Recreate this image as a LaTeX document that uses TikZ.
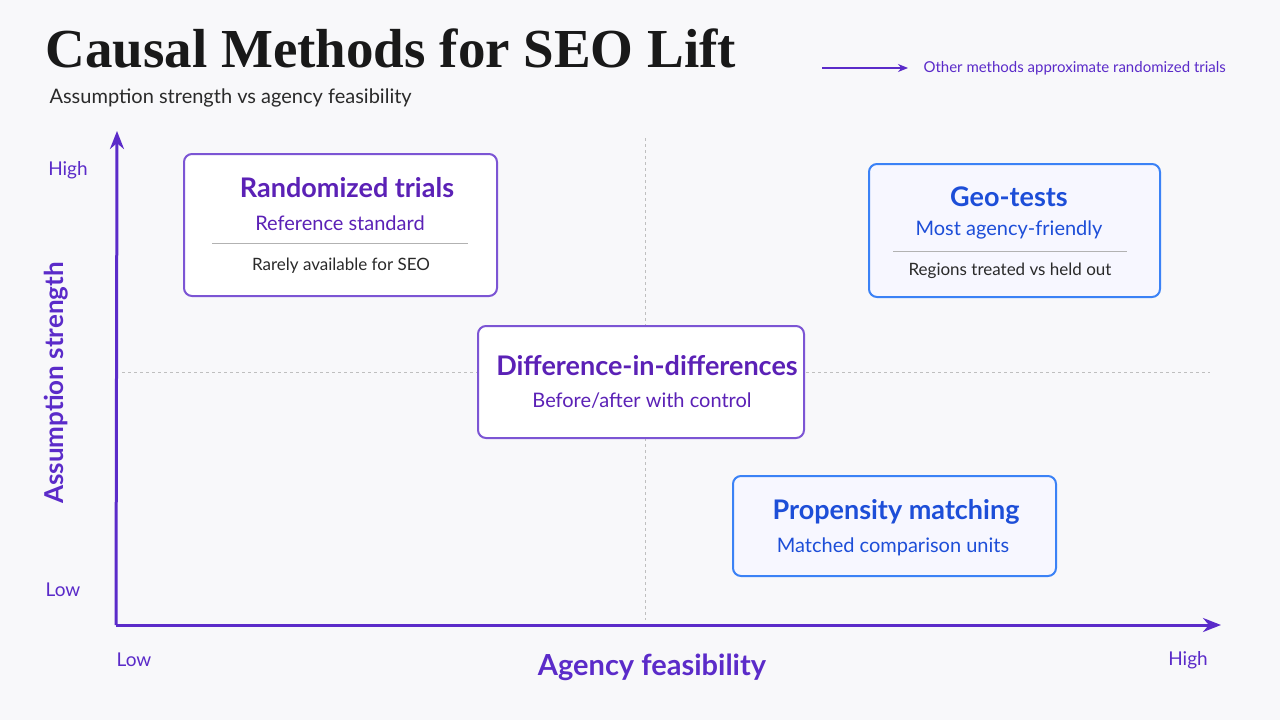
\documentclass[tikz,border=0pt]{standalone}
\usepackage{fontspec}
\setmainfont{Lato}
\newfontfamily\titlefont{Liberation Serif}
\usetikzlibrary{arrows.meta}
\definecolor{pur}{HTML}{5B21B6}
\definecolor{axp}{HTML}{5B2BC9}
\definecolor{blu}{HTML}{1D4ED8}
\definecolor{blb}{HTML}{3B82F6}
\definecolor{bg}{HTML}{F8F8FA}
\definecolor{txt}{HTML}{2A2A2A}
\tikzset{
 pbox/.style={draw=axp!80, line width=2pt, rounded corners=8pt, fill=white},
 bbox/.style={draw=blb, line width=2pt, rounded corners=8pt, fill=blue!3},
 ttl/.style={font=\fontsize{27}{30}\selectfont\bfseries},
 sub/.style={font=\fontsize{20}{23}\selectfont},
 nt/.style={font=\fontsize{17}{20}\selectfont, text=txt},
 dashl/.style={draw=gray!50, dashed, line width=0.8pt},
 sep/.style={draw=gray!60, line width=0.8pt},
 ax/.style={draw=axp, line width=3pt, -{Stealth[length=18pt,width=14pt]}},
 tick/.style={font=\fontsize{19}{22}\selectfont, text=axp},
}
\begin{document}
\begin{tikzpicture}[x=1pt,y=-1pt]
\path[fill=bg] (0,0) rectangle (1280,720);
\node[anchor=west, font=\titlefont\fontsize{55}{60}\selectfont\bfseries, text=black!90] (title) at (42,48) {Causal Methods for SEO Lift};
\node[anchor=west, font=\fontsize{20}{23}\selectfont, text=txt] (subt) at (46,98) {Assumption strength vs agency feasibility};
\coordinate (as) at (822,68);
\node[anchor=west, font=\fontsize{15}{17}\selectfont, text=axp] (note) at (920,68) {Other methods approximate randomized trials};
\draw[draw=axp, line width=1.3pt, -{Stealth[length=10pt,width=8pt]}] (as) -- ([xshift=-12pt]note.west);
% dashed
\coordinate (v1) at (645,138); \coordinate (v2) at (645,620);
\coordinate (h1) at (122,372); \coordinate (h2) at (1210,372);
\draw[dashl] (v1) -- (v2);
\draw[dashl] (h1) -- (h2);
% axes
\coordinate (o) at (116,625); \coordinate (yt) at (117,131); \coordinate (xt) at (1221,625);
\draw[ax] (o) -- (yt);
\draw[ax] (o) -- (xt);
\node[tick] (hy) at (68,170) {High};
\node[tick] (ly) at (63,590) {Low};
\node[tick] (lx) at (134,660) {Low};
\node[tick] (hx) at (1188,660) {High};
\node[font=\fontsize{29}{32}\selectfont\bfseries, text=axp] (xl) at (652,667) {Agency feasibility};
\node[font=\fontsize{26}{29}\selectfont\bfseries, text=axp, rotate=90] (yl) at (56,383) {Assumption strength};
% boxes
\node[pbox, minimum width=313pt, minimum height=142pt] (rt) at (340.5,225) {};
\node[ttl, text=pur] at (347,188) {Randomized trials};
\node[sub, text=pur] at (340,223) {Reference standard};
\draw[sep] (212,243) -- (468,243);
\node[nt] at (341,266) {Rarely available for SEO};

\node[bbox, minimum width=291pt, minimum height=133pt] (geo) at (1014.5,230.5) {};
\node[ttl, text=blu] at (1009,197) {Geo-tests};
\node[sub, text=blu] at (1009,230) {Most agency-friendly};
\draw[sep] (893,251) -- (1127,251);
\node[nt] at (1010,271) {Regions treated vs held out};

\node[pbox, minimum width=326pt, minimum height=112pt] (did) at (641,382) {};
\node[ttl, text=pur] at (647,366) {Difference-in-differences};
\node[sub, text=pur] at (642,401) {Before/after with control};

\node[bbox, minimum width=323pt, minimum height=100pt] (pm) at (894.5,526) {};
\node[ttl, text=blu] at (896,512) {Propensity matching};
\node[sub, text=blu] at (893,547) {Matched comparison units};
\end{tikzpicture}
\end{document}
